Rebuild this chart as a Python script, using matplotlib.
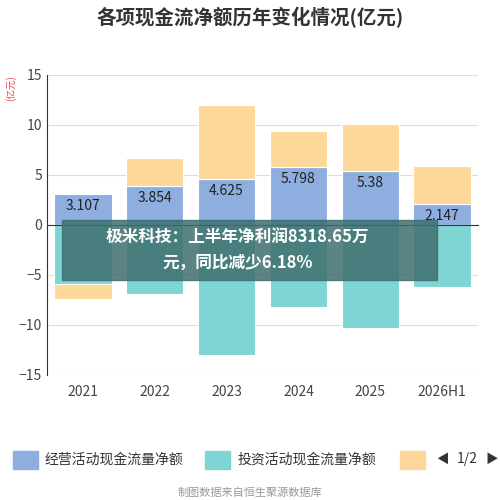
import matplotlib.pyplot as plt
import numpy as np

plt.rcParams['font.family'] = ['Noto Sans CJK SC', 'DejaVu Sans']

years = ['2021', '2022', '2023', '2024', '2025', '2026H1']
operating = [3.107, 3.854, 4.625, 5.798, 5.38, 2.147]
investing = [-5.9, -6.9, -13.0, -8.2, -10.3, -6.2]
financing = [-1.5, 2.85, 7.4, 3.6, 4.7, 3.75]
op_labels = ['3.107', '3.854', '4.625', '5.798', '5.38', '2.147']

c_op, c_inv, c_fin = '#8eaee0', '#7fd4d4', '#fdd89a'

fig = plt.figure(figsize=(5, 5), dpi=100)
ax = fig.add_axes([0.094, 0.25, 0.862, 0.60])
x = np.arange(len(years))
w = 0.8
ax.bar(x, operating, w, color=c_op, edgecolor='white', linewidth=0.8)
ax.bar(x, investing, w, color=c_inv, edgecolor='white', linewidth=0.8)
fin_bottom = [o if f > 0 else i for o, i, f in zip(operating, investing, financing)]
ax.bar(x, financing, w, bottom=fin_bottom, color=c_fin, edgecolor='white', linewidth=0.8)
for xi, v, t in zip(x, operating, op_labels):
    ax.text(xi, v - 1.2, t, ha='center', va='center', fontsize=10, color='#222')

ax.set_xlim(-0.5, len(years) - 0.5)
ax.set_ylim(-15, 15)
ax.set_yticks(range(-15, 16, 5))
ax.set_xticks(x)
ax.set_xticklabels([])
ax.tick_params(axis='y', labelsize=10, length=0, colors='#444')
ax.tick_params(axis='x', length=4)
ax.grid(axis='y', color='#dddddd', linewidth=0.8)
ax.set_axisbelow(True)
for s in ['top', 'right']:
    ax.spines[s].set_visible(False)
ax.spines['left'].set_color('#333')
ax.spines['bottom'].set_position(('data', 0))
ax.spines['bottom'].set_color('#333')
for xi, y in zip(x, years):
    ax.text(xi, -16.7, y, ha='center', va='center', fontsize=10, color='#444')
fig.text(0.022, 0.85, '(亿元)', rotation=90, color='#e05050', fontsize=7, ha='center', va='top')

fig.text(0.5, 0.965, '各项现金流净额历年变化情况(亿元)', ha='center', va='center', fontsize=14, fontweight='bold', color='#333')

# overlay banner
fig.patches.append(plt.Rectangle((0.124, 0.44), 0.75, 0.12, transform=fig.transFigure,
                                 color='#3f6f6f', alpha=0.85, zorder=5))
fig.text(0.475, 0.527, '极米科技：上半年净利润8318.65万', ha='center', va='center',
         fontsize=12, fontweight='bold', color='white', zorder=6)
fig.text(0.475, 0.475, '元，同比减少6.18%', ha='center', va='center',
         fontsize=12, fontweight='bold', color='white', zorder=6)

# legend
items = [(0.025, c_op, '经营活动现金流量净额'), (0.41, c_inv, '投资活动现金流量净额'), (0.8, c_fin, '')]
for lx, c, t in items:
    fig.patches.append(plt.Rectangle((lx, 0.063), 0.05, 0.036, transform=fig.transFigure,
                                     color=c, zorder=5))
    if t:
        fig.text(lx + 0.065, 0.081, t, fontsize=10, va='center', color='#333')
fig.text(0.873, 0.081, '◀', fontsize=9, va='center', color='#333')
fig.text(0.913, 0.081, '1/2', fontsize=10, va='center', color='#333')
fig.text(0.97, 0.081, '▶', fontsize=9, va='center', color='#333')
fig.text(0.5, 0.014, '制图数据来自恒生聚源数据库', ha='center', va='center', fontsize=8, color='#999')

fig.savefig('out.png', dpi=100)
